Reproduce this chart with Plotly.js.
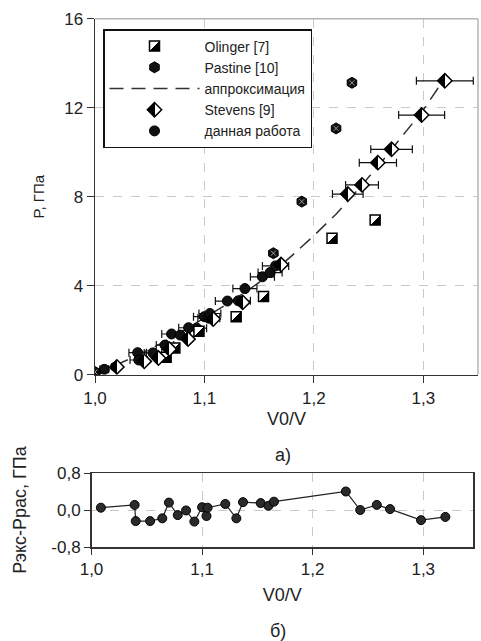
<!DOCTYPE html>
<html>
<head>
<meta charset="utf-8">
<script src="https://cdn.plot.ly/plotly-3.0.1.min.js"></script>
<style>html,body{margin:0;padding:0;background:#fff;}</style>
</head>
<body>
<div id="chart" style="width:481px;height:641px;"></div>
<script>
// ---- data ----
const fitV = [1.00,1.02,1.04,1.06,1.08,1.10,1.12,1.14,1.16,1.18,1.20,1.22,1.24,1.26,1.28,1.30,1.32];
const fitP = [0.00,0.45,0.90,1.40,1.95,2.55,3.15,3.80,4.50,5.35,6.25,7.20,8.30,9.45,10.65,11.90,13.35];

const workV = [1.0085,1.039,1.040,1.053,1.064,1.070,1.078,1.0855,1.093,1.100,1.104,1.105,1.121,1.131,1.137,1.153,1.160,1.165,1.231,1.244,1.2585,1.271,1.2985,1.3197];
const workP = [0.24,0.99,0.66,0.98,1.33,1.83,1.78,2.11,2.09,2.61,2.54,2.75,3.31,3.32,3.87,4.40,4.59,4.89,8.12,8.53,9.53,10.13,11.67,13.21];
const workErr = [0.004,0.008,0.008,0.008,0.008,0.009,0.009,0.009,0.009,0.010,0.010,0.010,0.011,0.011,0.011,0.011,0.011,0.012,0.014,0.015,0.017,0.019,0.021,0.026];

const stevensV = [1.020,1.045,1.058,1.068,1.085,1.108,1.135,1.170,1.231,1.244,1.2585,1.271,1.2985,1.3197];
const stevensP = [0.35,0.60,0.75,1.15,1.60,2.50,3.25,4.95,8.12,8.53,9.53,10.13,11.67,13.21];

const pastineV = [1.000,1.019,1.163,1.189,1.2203,1.2348];
const pastineP = [0.12,0.36,5.46,7.78,11.07,13.12];

const olingerV = [1.000,1.065,1.073,1.095,1.129,1.154,1.2166,1.256];
const olingerP = [0.00,0.78,1.20,1.95,2.61,3.51,6.13,6.95];

const residV = [1.0085,1.039,1.040,1.053,1.064,1.070,1.078,1.0855,1.093,1.100,1.104,1.105,1.121,1.131,1.137,1.153,1.160,1.165,1.230,1.243,1.258,1.270,1.298,1.320];
const residR = [0.05,0.11,-0.24,-0.24,-0.18,0.16,-0.11,-0.01,-0.25,0.06,-0.13,0.05,0.13,-0.18,0.17,0.15,0.09,0.18,0.40,0.00,0.11,0.02,-0.22,-0.15];

const xTicks = [1.0,1.1,1.2,1.3];
const xTickText = ['1,0','1,1','1,2','1,3'];
const yTicks = [0,4,8,12,16];
const y2Ticks = [-0.8,0,0.8];
const y2TickText = ['-0,8','0,0','0,8'];

const labels = {
  olinger: 'Olinger [7]', pastine: 'Pastine [10]', fit: 'аппроксимация',
  stevens: 'Stevens [9]', work: 'данная работа'
};

// ---- traces ----
const traces = [
  {x: fitV, y: fitP, xaxis:'x', yaxis:'y', mode:'lines', name: labels.fit, legendrank: 3,
   line:{color:'#333', width:1.5, dash:'14px,8px'}},
  {x: workV, y: workP, xaxis:'x', yaxis:'y', mode:'markers', name: labels.work, legendrank: 5,
   marker:{symbol:'circle', size:10, color:'#111', line:{color:'#000', width:1}},
   error_x:{type:'data', array: workErr, visible:true, color:'#111', thickness:1.2, width:4}},
  {x: olingerV, y: olingerP, xaxis:'x', yaxis:'y', mode:'markers', name: labels.olinger, legendrank: 1,
   marker:{symbol:'square', size:10, color:'#000', gradient:{type:'vertical', color:'#fff'}, line:{color:'#000', width:1.5}}},
  {x: pastineV, y: pastineP, xaxis:'x', yaxis:'y', mode:'markers', name: labels.pastine, legendrank: 2,
   marker:{symbol:'hexagon', size:11, color:'#111', line:{color:'#000', width:1}}},
  {x: pastineV, y: pastineP, xaxis:'x', yaxis:'y', mode:'markers', showlegend:false, hoverinfo:'skip',
   marker:{symbol:'x-thin', size:5, color:'#fff', line:{color:'#bbb', width:0.8}}},
  {x: stevensV, y: stevensP, xaxis:'x', yaxis:'y', mode:'markers', name: labels.stevens, legendrank: 4,
   marker:{symbol:'diamond', size:11, color:'#000', gradient:{type:'horizontal', color:'#fff'}, line:{color:'#000', width:1.5}}},
  {x: residV, y: residR, xaxis:'x2', yaxis:'y2', mode:'lines+markers', showlegend:false,
   line:{color:'#222', width:1.2},
   marker:{symbol:'circle', size:9, color:'#2a2a2a', line:{color:'#000', width:1}}}
];

const gridCol = '#c9c9c9';
const axisFont = {family:'Liberation Sans, Arial, sans-serif', size:17, color:'#222'};

const layout = {
  width: 481, height: 641,
  margin:{l:0, r:0, t:0, b:0},
  paper_bgcolor:'#fff', plot_bgcolor:'#fff',
  separators: ', ',
  font:{family:'Liberation Sans, Arial, sans-serif', size:14, color:'#222'},
  showlegend: true,
  legend:{x: 103/481, y: 1 - 29/641, xanchor:'left', yanchor:'top',
          bgcolor:'#fff', bordercolor:'#111', borderwidth:1.5,
          itemwidth: 90, tracegroupgap: 0,
          font:{family:'Liberation Sans, Arial, sans-serif', size:14, color:'#222'}},
  xaxis:{domain:[95/481, 478/481], range:[1.0, 1.35], anchor:'y',
         tickvals: xTicks, ticktext: xTickText, ticks:'outside', ticklen:7, tickcolor:'#333',
         tickfont: axisFont, showline:true, linecolor:'#333', linewidth:1.5,
         showgrid:true, gridcolor: gridCol, griddash:'dash', gridwidth:1, zeroline:false,
         title:{text:'V0/V', font:{size:18, color:'#222'}, standoff:6}},
  yaxis:{domain:[1 - 374.7/641, 1 - 18.7/641], range:[0, 16], anchor:'x',
         tickvals: yTicks, ticks:'outside', ticklen:7, tickcolor:'#333',
         tickfont: axisFont, showline:true, linecolor:'#333', linewidth:1.5,
         showgrid:true, gridcolor: gridCol, griddash:'dash', gridwidth:1, zeroline:false,
         title:{text:'P, ГПа', font:{size:15, color:'#222'}, standoff:16}},
  xaxis2:{domain:[91.5/481, 473/481], range:[1.0, 1.345], anchor:'y2',
         tickvals: xTicks, ticktext: xTickText, ticks:'outside', ticklen:6, tickcolor:'#333',
         tickfont: axisFont, showline:true, mirror:true, linecolor:'#333', linewidth:1.5,
         showgrid:true, gridcolor: gridCol, griddash:'dash', gridwidth:1, zeroline:false,
         title:{text:'V0/V', font:{size:18, color:'#222'}, standoff:10}},
  yaxis2:{domain:[1 - 547/641, 1 - 473/641], range:[-0.8, 0.8], anchor:'x2',
         tickvals: y2Ticks, ticktext: y2TickText, ticks:'outside', ticklen:6, tickcolor:'#333',
         tickfont: axisFont, showline:true, mirror:true, linecolor:'#333', linewidth:1.5,
         showgrid:true, gridcolor: gridCol, griddash:'dash', gridwidth:1, zeroline:false,
         title:{text:'Рэкс-Ррас, ГПа', font:{size:18, color:'#222'}, standoff:20}},
  shapes:[
    {type:'line', xref:'x domain', yref:'y domain', x0:0, x1:1, y0:1, y1:1, line:{color:'#b5b5b5', width:1.5}},
    {type:'line', xref:'x domain', yref:'y domain', x0:1, x1:1, y0:0, y1:1, line:{color:'#b5b5b5', width:1.5}}
  ],
  annotations:[
    {text:'а)', xref:'paper', yref:'paper', x: 283/481, y: 1 - 455/641, showarrow:false,
     font:{size:18, color:'#222'}, xanchor:'center', yanchor:'middle'},
    {text:'б)', xref:'paper', yref:'paper', x: 278/481, y: 1 - 631/641, showarrow:false,
     font:{size:18, color:'#222'}, xanchor:'center', yanchor:'middle'}
  ]
};

function hardSplit() {
  document.querySelectorAll('linearGradient').forEach(function(g) {
    const stops = g.querySelectorAll('stop');
    if (stops.length < 2) return;
    const vertical = g.getAttribute('y1') !== g.getAttribute('y2');
    while (g.firstChild) g.removeChild(g.firstChild);
    let spec;
    if (vertical) {
      g.setAttribute('x1', 0); g.setAttribute('y1', 0); g.setAttribute('x2', 1); g.setAttribute('y2', 1);
      spec = [[0,'#fff'],[0.5,'#fff'],[0.5,'#000'],[1,'#000']];
    } else {
      g.setAttribute('x1', 0); g.setAttribute('y1', 0); g.setAttribute('x2', 1); g.setAttribute('y2', 0);
      spec = [[0,'#000'],[0.5,'#000'],[0.5,'#fff'],[1,'#fff']];
    }
    spec.forEach(function(s) {
      const st = document.createElementNS('http://www.w3.org/2000/svg', 'stop');
      st.setAttribute('offset', (s[0]*100) + '%');
      st.setAttribute('stop-color', s[1]);
      st.setAttribute('stop-opacity', 1);
      g.appendChild(st);
    });
  });
}

Plotly.newPlot('chart', traces, layout, {staticPlot:true, displayModeBar:false}).then(hardSplit);
</script>
</body>
</html>
